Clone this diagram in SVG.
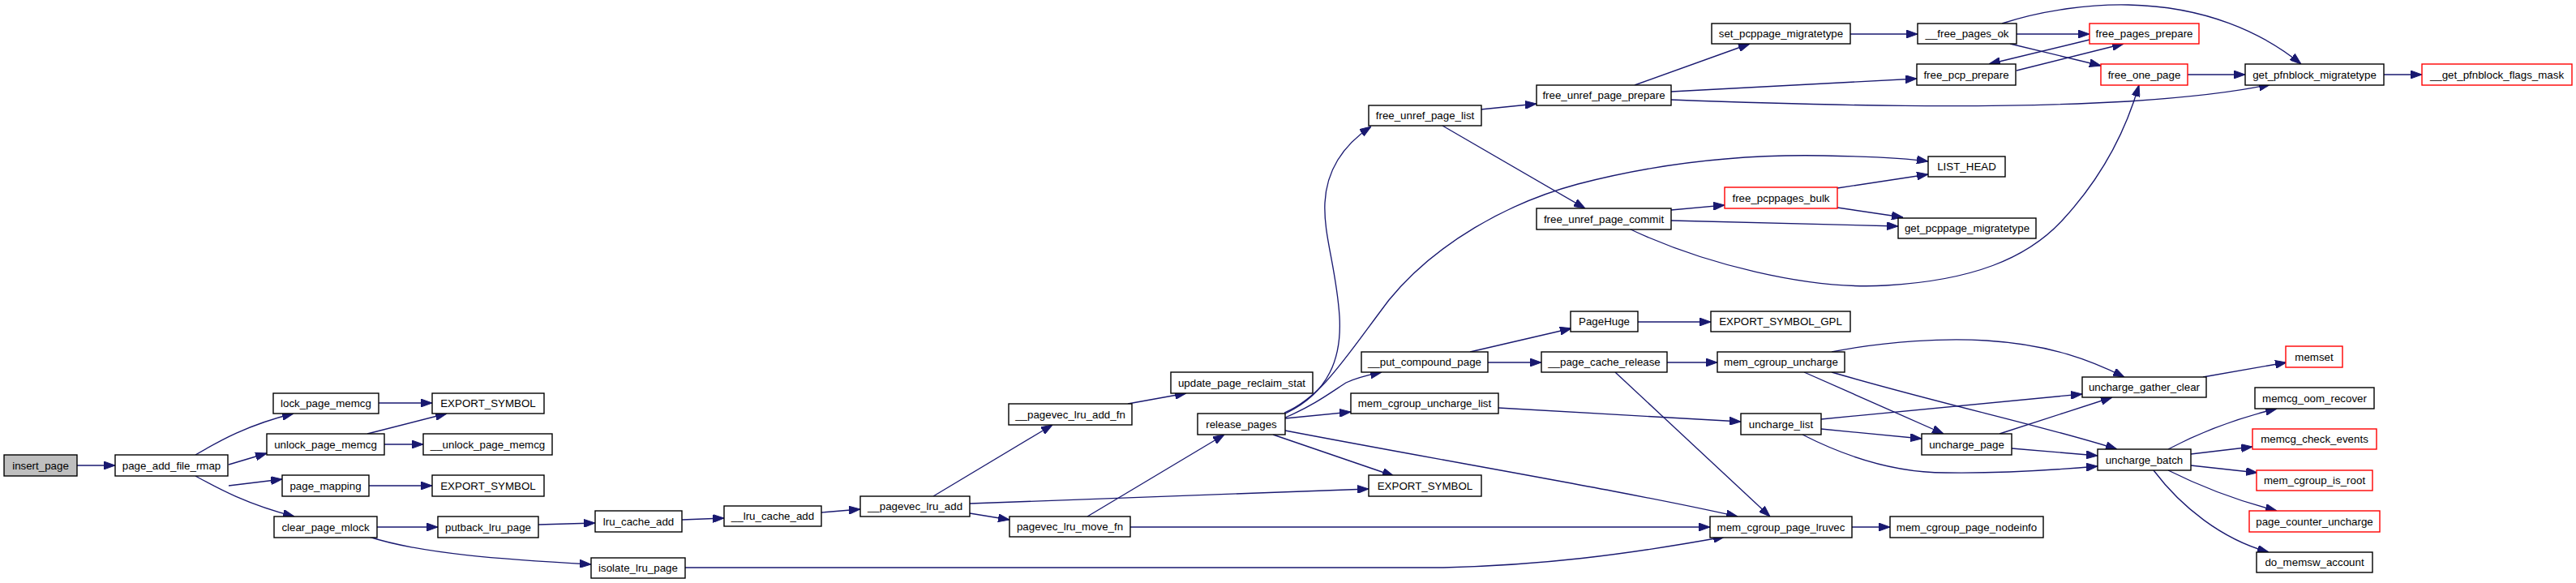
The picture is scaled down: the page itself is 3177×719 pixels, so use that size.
<svg xmlns="http://www.w3.org/2000/svg" width="3177" height="719" viewBox="0 0 3177 719">
<style>
.n rect{fill:#fff;stroke:#000;stroke-width:1.4}
.r rect{stroke:#f00}
.g rect{fill:#bfbfbf}
text{font-family:"Liberation Sans",Arial,sans-serif;font-size:13.33px;text-anchor:middle;fill:#000}
#edges path{fill:none;stroke:#191970;stroke-width:1.33;marker-end:url(#a)}
</style>
<defs>
<marker id="a" markerUnits="userSpaceOnUse" markerWidth="14" markerHeight="10" refX="14" refY="5" orient="auto">
<path d="M0,0 L14,5 L0,10 z" fill="#191970" stroke="#191970" stroke-width="1"/>
</marker>
</defs>
<rect width="3177" height="719" fill="#fff"/>
<g id="edges">
<path d="M95,574 L142,574"/>
<path d="M241,561 C270,544 305,524 362,510"/>
<path d="M282,573 L329,559"/>
<path d="M282,599 L348,591"/>
<path d="M241,587 C270,603 305,622 363,637"/>
<path d="M467,497 L533,497"/>
<path d="M453,535 L551,510"/>
<path d="M474,548 L522,548"/>
<path d="M455,599 L533,599"/>
<path d="M465,650 L540,650"/>
<path d="M455,662 C520,683 620,690 729,696"/>
<path d="M664,647 L734,645"/>
<path d="M841,641 L893,639"/>
<path d="M1013,632 L1061,628"/>
<path d="M1151,612 L1298,524"/>
<path d="M1196,621 L1688,603"/>
<path d="M1196,633 L1245,641"/>
<path d="M1391,498 L1463,485"/>
<path d="M1341,637 L1510,536"/>
<path d="M1394,650 L2109,650"/>
<path d="M845,700 L1780,700 C1900,697 2000,685 2127,662"/>
<path d="M1583,511 C1640,485 1655,440 1652,390 C1648,330 1632,290 1634,250 C1636,210 1655,180 1691,156"/>
<path d="M1584,509 C1630,490 1660,440 1713,370 C1770,300 1860,250 1946,227 C2050,200 2150,190 2250,192 C2310,193 2350,195 2378,199"/>
<path d="M1585,515 C1620,500 1640,485 1660,472 C1675,465 1690,462 1704,459"/>
<path d="M1585,516 L1666,508"/>
<path d="M1570,536 L1719,587"/>
<path d="M1585,531 C1800,572 2000,605 2143,637"/>
<path d="M1813,434 L1938,405"/>
<path d="M1835,447 L1901,447"/>
<path d="M2020,397 L2110,397"/>
<path d="M2056,447 L2118,447"/>
<path d="M1992,459 L2183,637"/>
<path d="M1848,503 L2147,520"/>
<path d="M2259,434 C2330,420 2400,417 2450,420 C2530,425 2580,445 2620,465"/>
<path d="M2225,459 L2397,535"/>
<path d="M2259,459 C2400,500 2520,525 2611,554"/>
<path d="M2246,517 L2568,486"/>
<path d="M2246,529 L2370,541"/>
<path d="M2223,536 C2270,560 2330,583 2400,583 C2470,584 2530,580 2587,575"/>
<path d="M2466,535 L2605,490"/>
<path d="M2481,553 L2587,562"/>
<path d="M2717,465 L2820,447"/>
<path d="M2674,554 C2710,535 2750,518 2808,504"/>
<path d="M2702,560 L2778,551"/>
<path d="M2702,574 L2784,583"/>
<path d="M2674,580 C2710,598 2750,615 2808,630"/>
<path d="M2656,580 C2690,625 2740,665 2798,681"/>
<path d="M2284,650 L2331,650"/>
<path d="M1826,135 L1895,128"/>
<path d="M1779,155 L1955,257"/>
<path d="M2016,105 L2158,54"/>
<path d="M2061,113 L2364,97"/>
<path d="M2061,123 C2250,130 2450,135 2625,125 C2700,120 2760,113 2800,104"/>
<path d="M2282,42 L2365,42"/>
<path d="M2487,42 L2577,42"/>
<path d="M2479,54 L2591,81"/>
<path d="M2469,29 C2520,12 2580,5 2625,6 C2720,8 2790,40 2838,79"/>
<path d="M2577,49 L2453,79"/>
<path d="M2487,87 L2619,54"/>
<path d="M2698,92 L2769,92"/>
<path d="M2940,92 L2987,92"/>
<path d="M2061,259 L2127,253"/>
<path d="M2061,272 L2341,279"/>
<path d="M2009,282 C2100,325 2230,358 2326,352 C2430,346 2500,320 2545,270 C2600,210 2625,150 2638,105"/>
<path d="M2266,232 L2378,215"/>
<path d="M2266,256 L2347,268"/>
</g>
<g id="insert_page" class="n g"><rect x="5" y="561" width="90" height="26"/><text x="50" y="578.7">insert_page</text></g>
<g id="page_add_file_rmap" class="n"><rect x="142" y="561" width="139" height="26"/><text x="211.5" y="578.7">page_add_file_rmap</text></g>
<g id="lock_page_memcg" class="n"><rect x="337" y="485" width="130" height="25"/><text x="402" y="502.2">lock_page_memcg</text></g>
<g id="unlock_page_memcg" class="n"><rect x="329" y="535" width="145" height="26"/><text x="401.5" y="552.7">unlock_page_memcg</text></g>
<g id="page_mapping" class="n"><rect x="348" y="586" width="107" height="26"/><text x="401.5" y="603.7">page_mapping</text></g>
<g id="clear_page_mlock" class="n"><rect x="338" y="637" width="127" height="26"/><text x="401.5" y="654.7">clear_page_mlock</text></g>
<g id="export_symbol_1" class="n"><rect x="533" y="485" width="138" height="25"/><text x="602" y="502.2">EXPORT_SYMBOL</text></g>
<g id="__unlock_page_memcg" class="n"><rect x="522" y="535" width="159" height="26"/><text x="601.5" y="552.7">__unlock_page_memcg</text></g>
<g id="export_symbol_2" class="n"><rect x="533" y="586" width="138" height="26"/><text x="602" y="603.7">EXPORT_SYMBOL</text></g>
<g id="putback_lru_page" class="n"><rect x="540" y="637" width="124" height="26"/><text x="602" y="654.7">putback_lru_page</text></g>
<g id="lru_cache_add" class="n"><rect x="734" y="630" width="107" height="26"/><text x="787.5" y="647.7">lru_cache_add</text></g>
<g id="isolate_lru_page" class="n"><rect x="729" y="688" width="116" height="25"/><text x="787" y="705.2">isolate_lru_page</text></g>
<g id="__lru_cache_add" class="n"><rect x="893" y="624" width="120" height="25"/><text x="953" y="641.2">__lru_cache_add</text></g>
<g id="__pagevec_lru_add" class="n"><rect x="1061" y="612" width="135" height="25"/><text x="1128.5" y="629.2">__pagevec_lru_add</text></g>
<g id="__pagevec_lru_add_fn" class="n"><rect x="1244" y="498" width="152" height="26"/><text x="1320" y="515.7">__pagevec_lru_add_fn</text></g>
<g id="pagevec_lru_move_fn" class="n"><rect x="1245" y="637" width="149" height="25"/><text x="1319.5" y="654.2">pagevec_lru_move_fn</text></g>
<g id="update_page_reclaim_stat" class="n"><rect x="1444" y="459" width="175" height="26"/><text x="1531.5" y="476.7">update_page_reclaim_stat</text></g>
<g id="release_pages" class="n"><rect x="1477" y="510" width="108" height="26"/><text x="1531" y="527.7">release_pages</text></g>
<g id="free_unref_page_list" class="n"><rect x="1688" y="130" width="139" height="25"/><text x="1757.5" y="147.2">free_unref_page_list</text></g>
<g id="__put_compound_page" class="n"><rect x="1679" y="434" width="156" height="25"/><text x="1757" y="451.2">__put_compound_page</text></g>
<g id="mem_cgroup_uncharge_list" class="n"><rect x="1666" y="485" width="182" height="25"/><text x="1757" y="502.2">mem_cgroup_uncharge_list</text></g>
<g id="export_symbol_3" class="n"><rect x="1688" y="586" width="139" height="26"/><text x="1757.5" y="603.7">EXPORT_SYMBOL</text></g>
<g id="free_unref_page_prepare" class="n"><rect x="1895" y="105" width="166" height="25"/><text x="1978" y="122.2">free_unref_page_prepare</text></g>
<g id="free_unref_page_commit" class="n"><rect x="1895" y="257" width="166" height="26"/><text x="1978" y="274.7">free_unref_page_commit</text></g>
<g id="PageHuge" class="n"><rect x="1937" y="384" width="83" height="25"/><text x="1978.5" y="401.2">PageHuge</text></g>
<g id="__page_cache_release" class="n"><rect x="1901" y="434" width="155" height="25"/><text x="1978.5" y="451.2">__page_cache_release</text></g>
<g id="set_pcppage_migratetype" class="n"><rect x="2111" y="29" width="171" height="25"/><text x="2196.5" y="46.2">set_pcppage_migratetype</text></g>
<g id="free_pcppages_bulk" class="n r"><rect x="2127" y="231" width="139" height="26"/><text x="2196.5" y="248.7">free_pcppages_bulk</text></g>
<g id="EXPORT_SYMBOL_GPL" class="n"><rect x="2110" y="384" width="172" height="25"/><text x="2196" y="401.2">EXPORT_SYMBOL_GPL</text></g>
<g id="mem_cgroup_uncharge" class="n"><rect x="2118" y="434" width="157" height="25"/><text x="2196.5" y="451.2">mem_cgroup_uncharge</text></g>
<g id="uncharge_list" class="n"><rect x="2147" y="510" width="99" height="26"/><text x="2196.5" y="527.7">uncharge_list</text></g>
<g id="mem_cgroup_page_lruvec" class="n"><rect x="2109" y="637" width="175" height="26"/><text x="2196.5" y="654.7">mem_cgroup_page_lruvec</text></g>
<g id="__free_pages_ok" class="n"><rect x="2365" y="29" width="122" height="25"/><text x="2426" y="46.2">__free_pages_ok</text></g>
<g id="free_pcp_prepare" class="n"><rect x="2364" y="79" width="122" height="26"/><text x="2425" y="96.7">free_pcp_prepare</text></g>
<g id="LIST_HEAD" class="n"><rect x="2378" y="193" width="95" height="25"/><text x="2425.5" y="210.2">LIST_HEAD</text></g>
<g id="get_pcppage_migratetype" class="n"><rect x="2341" y="269" width="170" height="25"/><text x="2426" y="286.2">get_pcppage_migratetype</text></g>
<g id="uncharge_page" class="n"><rect x="2370" y="535" width="111" height="26"/><text x="2425.5" y="552.7">uncharge_page</text></g>
<g id="mem_cgroup_page_nodeinfo" class="n"><rect x="2331" y="637" width="189" height="26"/><text x="2425.5" y="654.7">mem_cgroup_page_nodeinfo</text></g>
<g id="free_pages_prepare" class="n r"><rect x="2577" y="29" width="135" height="25"/><text x="2644.5" y="46.2">free_pages_prepare</text></g>
<g id="free_one_page" class="n r"><rect x="2591" y="79" width="107" height="26"/><text x="2644.5" y="96.7">free_one_page</text></g>
<g id="uncharge_gather_clear" class="n"><rect x="2568" y="465" width="153" height="25"/><text x="2644.5" y="482.2">uncharge_gather_clear</text></g>
<g id="uncharge_batch" class="n"><rect x="2587" y="554" width="115" height="26"/><text x="2644.5" y="571.7">uncharge_batch</text></g>
<g id="get_pfnblock_migratetype" class="n"><rect x="2769" y="79" width="171" height="26"/><text x="2854.5" y="96.7">get_pfnblock_migratetype</text></g>
<g id="memset" class="n r"><rect x="2819" y="427" width="70" height="26"/><text x="2854" y="444.7">memset</text></g>
<g id="memcg_oom_recover" class="n"><rect x="2781" y="478" width="147" height="26"/><text x="2854.5" y="495.7">memcg_oom_recover</text></g>
<g id="memcg_check_events" class="n r"><rect x="2778" y="529" width="153" height="25"/><text x="2854.5" y="546.2">memcg_check_events</text></g>
<g id="mem_cgroup_is_root" class="n r"><rect x="2783" y="580" width="143" height="25"/><text x="2854.5" y="597.2">mem_cgroup_is_root</text></g>
<g id="page_counter_uncharge" class="n r"><rect x="2774" y="630" width="161" height="26"/><text x="2854.5" y="647.7">page_counter_uncharge</text></g>
<g id="do_memsw_account" class="n"><rect x="2783" y="681" width="143" height="25"/><text x="2854.5" y="698.2">do_memsw_account</text></g>
<g id="__get_pfnblock_flags_mask" class="n r"><rect x="2987" y="79" width="185" height="26"/><text x="3079.5" y="96.7">__get_pfnblock_flags_mask</text></g>
</svg>
